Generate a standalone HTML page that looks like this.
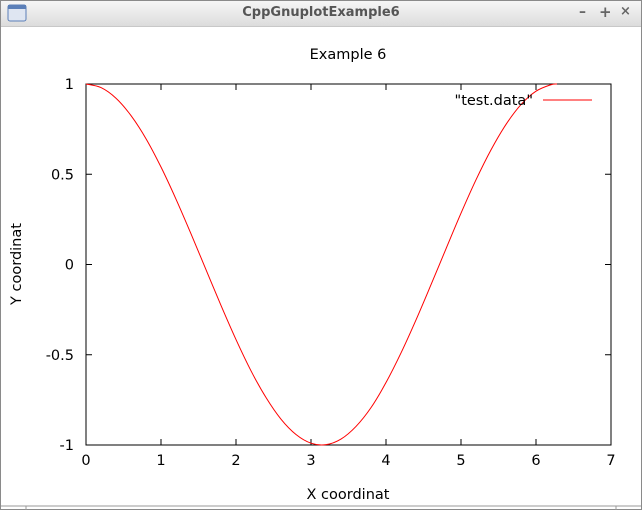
<!DOCTYPE html>
<html><head><meta charset="utf-8"><style>
body{margin:0;width:642px;height:510px;overflow:hidden;background:#fff;font-family:"DejaVu Sans","Liberation Sans",sans-serif}
#win{position:absolute;left:0;top:0;width:640px;height:508px;border:1px solid #8a8a8a;background:#fff}
#bar{position:absolute;left:0;top:0;width:640px;height:25px;background:linear-gradient(#f6f6f6,#dcdcdc);border-bottom:1px solid #c8c8c8}
#ttl{position:absolute;left:0;width:640px;top:4px;text-align:center;font-weight:bold;font-size:13px;color:#555}
</style></head><body>
<div id="win">
<div id="bar">
<svg width="24" height="22" style="position:absolute;left:6px;top:2px"><rect x="1" y="2" width="18" height="16" rx="2" fill="#dfe6f2" stroke="#5b7fb8"/><rect x="1" y="2" width="18" height="4" fill="#5b7fb8"/></svg>
<div id="ttl">CppGnuplotExample6</div>
<span style="position:absolute;left:578px;top:3px;font-size:14px;color:#666;font-weight:bold">–</span>
<span style="position:absolute;left:598px;top:2px;font-size:15px;color:#666;font-weight:bold">+</span>
<span style="position:absolute;left:619px;top:3px;font-size:13px;color:#666;font-weight:bold">×</span>
</div>
</div>
<svg id="c" width="642" height="510" style="position:absolute;left:0;top:0"></svg>
<script>
const xs=[0,0.2,0.4,0.6,0.8,1.0,1.2,1.4,1.6,1.8,2.0,2.2,2.4,2.6,2.8,3.0,3.2,3.4,3.6,3.8,4.0,4.2,4.4,4.6,4.8,5.0,5.2,5.4,5.6,5.8,6.0,6.2,6.28];
const ys=[1,0.980,0.921,0.825,0.697,0.540,0.362,0.170,-0.029,-0.227,-0.416,-0.589,-0.737,-0.857,-0.942,-0.990,-0.998,-0.967,-0.897,-0.793,-0.654,-0.490,-0.307,-0.112,0.087,0.284,0.469,0.635,0.776,0.886,0.960,0.996,1.000];
const xTicks=[0,1,2,3,4,5,6,7];
const yTicks=[1,0.5,0,-0.5,-1];
const yLabels=["1","0.5","0","-0.5","-1"];
const L=86,R=611,T=84,B=445;
const sx=v=>L+(v-0)/(7-0)*(R-L);
const sy=v=>B-(v+1)/2*(B-T);
const svg=document.getElementById('c');
const NS='http://www.w3.org/2000/svg';
function mk(t,a,txt){const e=document.createElementNS(NS,t);for(const k in a)e.setAttribute(k,a[k]);if(txt!==undefined)e.textContent=txt;svg.appendChild(e);return e;}
let e=mk('rect',{x:L,y:T,width:R-L,height:B-T,fill:'none',stroke:'#000','stroke-width':1});


xTicks.forEach(v=>{
 let t=mk('path',{d:`M${sx(v)},${B}v-6M${sx(v)},${T}v6`,stroke:'#000'});
 
 
 let l=mk('text',{x:sx(v),y:B+20,'text-anchor':'middle','font-size':14.5},String(v));
 
 
});
yTicks.forEach((v,i)=>{
 let t=mk('path',{d:`M${L},${sy(v)}h6M${R},${sy(v)}h-6`,stroke:'#000'});
 
 
 let l=mk('text',{x:L-12,y:sy(v)+5,'text-anchor':'end','font-size':14.5},yLabels[i]);
 
 
});
const P=xs.map((x,i)=>[sx(x),sy(ys[i])]);
let d='M'+P[0][0]+','+P[0][1];
for(let i=0;i<P.length-1;i++){
 const p0=P[Math.max(0,i-1)],p1=P[i],p2=P[i+1],p3=P[Math.min(P.length-1,i+2)];
 const c1=[p1[0]+(p2[0]-p0[0])/6,p1[1]+(p2[1]-p0[1])/6];
 const c2=[p2[0]-(p3[0]-p1[0])/6,p2[1]-(p3[1]-p1[1])/6];
 d+=`C${c1[0]},${c1[1]} ${c2[0]},${c2[1]} ${p2[0]},${p2[1]}`;
}
let p=mk('path',{d:d,fill:'none',stroke:'#f00','stroke-width':1});


let ttl=mk('text',{x:348,y:59,'text-anchor':'middle','font-size':14.5},'Example 6');


let xt=mk('text',{x:348,y:499,'text-anchor':'middle','font-size':14.5},'X coordinat');


let yt=mk('text',{x:0,y:0,'text-anchor':'middle','font-size':14.5,transform:'translate(21,264) rotate(-90)'},'Y coordinat');


let lg=mk('text',{x:533,y:105,'text-anchor':'end','font-size':14.5},'"test.data"');


let ll=mk('line',{x1:543,x2:592,y1:100,y2:100,stroke:'#f00'});


let sb=mk('path',{d:'M1,506H641M26,506v4M616,506v4',stroke:'#999',fill:'none'});


</script>
</body></html>
